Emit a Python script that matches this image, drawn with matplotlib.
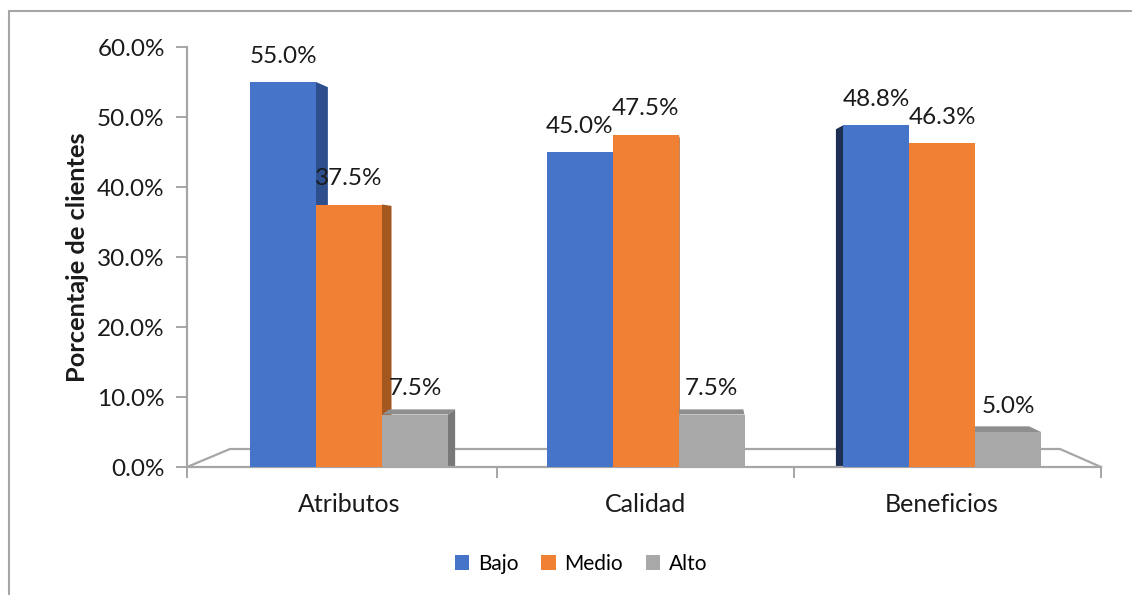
import matplotlib
matplotlib.use("Agg")
import matplotlib.pyplot as plt
from matplotlib.patches import Polygon, Patch
from matplotlib.ticker import FixedLocator, NullFormatter

plt.rcParams['font.family'] = ['Lato', 'DejaVu Sans']

categorias = ["Atributos", "Calidad", "Beneficios"]
series = ["Bajo", "Medio", "Alto"]
bajo = [55.0, 45.0, 48.8]
medio = [37.5, 47.5, 46.3]
alto = [7.5, 7.5, 5.0]
valores = [bajo, medio, alto]

frente = ["#4674C8", "#EF8034", "#A8A8A8"]
lado = ["#2D4F8E", "#A4571F", "#787878"]
tapa = ["#3A62AA", "#C9692A", "#8E8E8E"]
lado_izq = "#1D2F52"

W, H = 1132, 595
fig = plt.figure(figsize=(W / 100, H / 100), dpi=100)

# marco exterior del grafico (solo se ven borde izquierdo y superior)
fig.patches.append(plt.Rectangle((9 / W, -0.1), 1.2, (H - 11) / H + 0.1,
                                 transform=fig.transFigure, fill=False,
                                 edgecolor="#A6A6A6", linewidth=1.5))

ax_l, ax_r, ax_b, ax_t = 187, 1101, 467, 47
ax = fig.add_axes([ax_l / W, (H - ax_b) / H, (ax_r - ax_l) / W, (ax_b - ax_t) / H])

px_cat = 296.5
x0 = -162 / px_cat
x1 = x0 + (ax_r - ax_l) / px_cat
ax.set_xlim(x0, x1)
ax.set_ylim(0, 60)
px_y = (ax_b - ax_t) / 60.0
ancho = 66 / px_cat
centro_px = 646

def a_px(x):
    return ax_l + (x - x0) * px_cat

def y_px(y):
    return ax_b - y * px_y

gris = "#A6A6A6"
texto = "#1A1A1A"

# piso en perspectiva
fondo = 18 / px_y
ax.plot([x0, x0 + 43 / px_cat, x1 - 41 / px_cat, x1], [0, fondo, fondo, 0],
        color=gris, lw=1.6, zorder=1, clip_on=False, solid_joinstyle="miter")

def izquierda(i, j):
    return i + (j - 1.5) * ancho

caras_lado, caras_tapa = [], []
for j, vals in enumerate(valores):
    for i, v in enumerate(vals):
        xl = izquierda(i, j)
        xr = xl + ancho
        # profundidad segun la posicion respecto al centro de vista
        borde = xr if a_px(xr) < centro_px else xl
        dx = (centro_px - a_px(borde)) * 0.036 / px_cat
        dy = -(249 - y_px(v)) * 0.031 / px_y
        if dx > 0:
            caras_lado.append(Polygon([(xr, 0), (xr, v), (xr + dx, v + dy), (xr + dx, 0)],
                                      closed=True, facecolor=lado[j], edgecolor="none"))
        else:
            caras_lado.append(Polygon([(xl, 0), (xl, v), (xl + dx, v + dy), (xl + dx, 0)],
                                      closed=True,
                                      facecolor=lado_izq if j == 0 else lado[j],
                                      edgecolor="none"))
        if dy > 0:
            caras_tapa.append(Polygon([(xl, v), (xr, v), (xr + dx, v + dy), (xl + dx, v + dy)],
                                      closed=True, facecolor=tapa[j], edgecolor="none"))

for p in caras_lado:
    p.set_zorder(2)
    ax.add_patch(p)
for p in caras_tapa:
    p.set_zorder(3)
    ax.add_patch(p)
for j, vals in enumerate(valores):
    pos = [izquierda(i, j) for i in range(len(categorias))]
    ax.bar(pos, vals, width=ancho, align="edge", color=frente[j], zorder=4, label=series[j])
    for x, v in zip(pos, vals):
        ax.annotate(f"{v:.1f}%", (x + ancho / 2, v), xytext=(0, 11), textcoords="offset points",
                    ha="center", va="bottom", fontsize=17.5, color=texto, zorder=6)

# ejes
for s in ["top", "right"]:
    ax.spines[s].set_visible(False)
ax.spines["left"].set_color(gris)
ax.spines["left"].set_linewidth(1.6)
ax.spines["bottom"].set_color(gris)
ax.spines["bottom"].set_linewidth(1.6)
ax.set_yticks(range(0, 61, 10))
ax.set_yticklabels([f"{t:.1f}%" for t in range(0, 61, 10)])
ax.tick_params(axis="y", length=8, width=1.4, color=gris, labelsize=17.5, pad=8,
               labelcolor=texto)
ax.xaxis.set_major_locator(FixedLocator([x0, 0.5, 1.5, x1]))
ax.xaxis.set_major_formatter(NullFormatter())
ax.xaxis.set_minor_locator(FixedLocator(range(len(categorias))))
ax.set_xticklabels(categorias, minor=True)
ax.tick_params(axis="x", which="major", length=8, width=1.4, color=gris)
ax.tick_params(axis="x", which="minor", length=0, labelsize=18, pad=19, labelcolor=texto)

ax.set_ylabel("Porcentaje de clientes", fontsize=18.3, fontweight="bold", labelpad=6,
              color=texto)

manejadores = [Patch(facecolor=c, label=s) for c, s in zip(frente, series)]
fig.legend(handles=manejadores, loc="center", bbox_to_anchor=(581 / W, (H - 564) / H),
           ncol=3, frameon=False, fontsize=15, handlelength=0.7, handleheight=0.7,
           handletextpad=0.4, columnspacing=1.1)

fig.savefig("out.png", dpi=100)
